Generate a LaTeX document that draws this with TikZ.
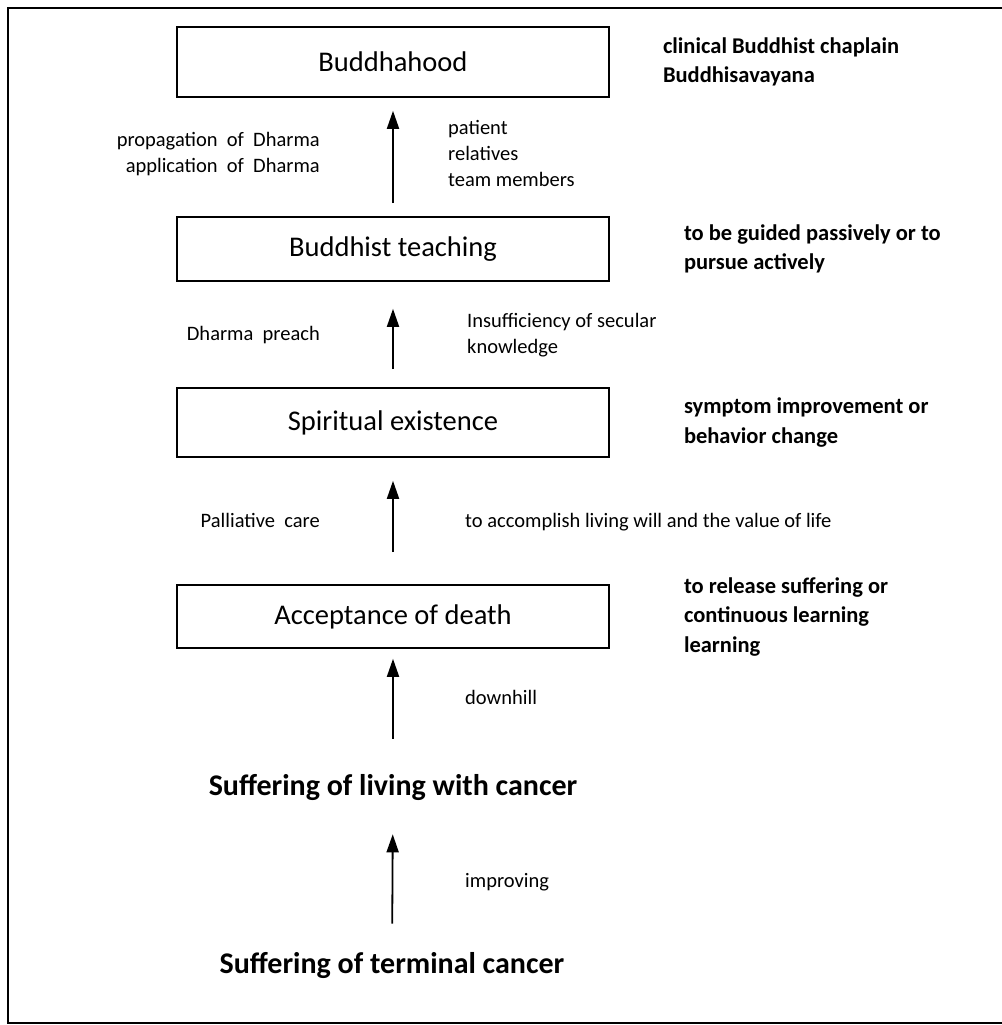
\documentclass[tikz,border=0pt]{standalone}
\usepackage{fontspec}
\setmainfont{Carlito}
\usetikzlibrary{arrows.meta,positioning}

\begin{document}
\begin{tikzpicture}[x=1pt,y=-1pt,
  stage/.style={draw=black, line width=1.6pt, minimum width=432pt, inner sep=0pt, font=\fontsize{28.5}{32}\selectfont},
  cause/.style={inner sep=0pt, font=\fontsize{30}{34}\selectfont\bfseries},
  note/.style={inner sep=0pt, font=\fontsize{20.5}{26}\selectfont},
  side/.style={inner sep=0pt, align=left, anchor=west, font=\fontsize{22.5}{29.5}\selectfont\bfseries},
  up/.style={-{Triangle[length=18pt,width=12pt]}, line width=1.8pt}]

\useasboundingbox (0,0) rectangle (1001,1025);

% Frame
\draw[line width=1.8pt] (1012,8) -- (8,8) -- (8,1023) -- (1012,1023);

% Stages
\node[stage, minimum height=70pt] (buddhahood) at (393,62) {Buddhahood};
\node[stage, minimum height=64pt] (teaching) at (393,249) {Buddhist teaching};
\node[stage, minimum height=69pt] (spiritual) at (393,422.5) {Spiritual existence};
\node[stage, minimum height=63pt] (acceptance) at (393,616.5) {Acceptance of death};
\node[cause] (living) at (393,787) {Suffering of living with cancer};
\node[cause] (terminal) at (392,965) {Suffering of terminal cancer};

% Arrows
\draw[up, shorten <=13pt, shorten >=13pt] (teaching) -- (buddhahood);
\draw[up, shorten <=18pt, shorten >=27pt] (spiritual) -- (teaching);
\draw[up, shorten <=32pt, shorten >=23pt] (acceptance) -- (spiritual);
\draw[up, shorten <=35pt, shorten >=10pt] (living) -- (acceptance);
\draw[up, shorten <=28pt, shorten >=34pt] (terminal) -- (living);

% Side notes
\node[side, right=53pt of buddhahood] (chaplain) {clinical Buddhist chaplain\\Buddhisavayana};
\node[side, right=74pt of teaching] (guided) {to be guided passively or to\\pursue actively};
\node[side, right=74pt of spiritual] (symptom) {symptom improvement or\\behavior change};
\node[side, right=74pt of acceptance] (release) {to release suffering or\\continuous learning\\learning};

% Arrow labels, left
\node[note, anchor=east, align=right] (dharma) at (320,154.5) {propagation\ \ of\ \ Dharma\\application\ \ of\ \ Dharma};
\node[note, anchor=east] (preach) at (320,335) {Dharma\ \ preach};
\node[note, anchor=east] (palliative) at (320,520) {Palliative\ \ care};

% Arrow labels, right
\node[note, anchor=west, align=left] (members) at (448,153) {patient\\relatives\\team members};
\node[note, anchor=west, align=left] (secular) at (467,335) {Insufficiency of secular\\knowledge};
\node[note, anchor=west] (will) at (465,522) {to accomplish living will and the value of life};
\node[note, anchor=west] (downhill) at (465,697) {downhill};
\node[note, anchor=west] (improving) at (465,882) {improving};
\end{tikzpicture}
\end{document}
